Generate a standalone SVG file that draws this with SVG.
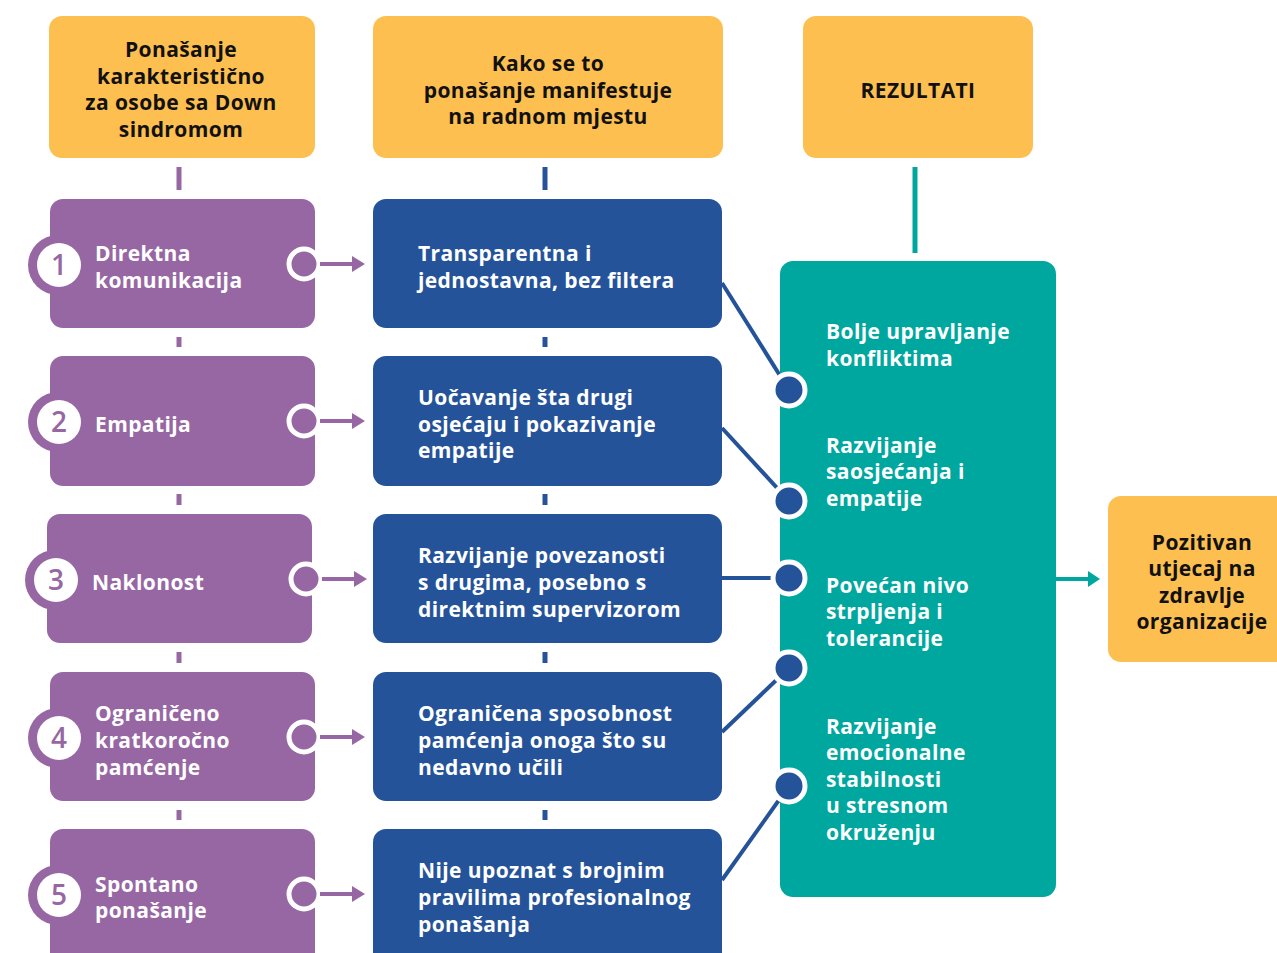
<svg xmlns="http://www.w3.org/2000/svg" width="1277" height="953" viewBox="0 0 1277 953">
<defs>
<style>
.hdr{fill:#FDBF50}
.pur{fill:#9767A4}
.blu{fill:#25539A}
.tea{fill:#00A79E}
.t{font-family:"Open Sans","Liberation Sans",sans-serif;font-weight:700;font-size:21px;letter-spacing:0.4px}
.tw{fill:#ffffff}
.tb{fill:#111111}
.num{font-family:"Open Sans","Liberation Sans",sans-serif;font-weight:600;font-size:28px;fill:#9767A4;text-anchor:middle}
.mid{text-anchor:middle}
.pdash{stroke:#9767A4;stroke-width:5}
.bdash{stroke:#25539A;stroke-width:5}
.pline{stroke:#9767A4;stroke-width:4;fill:none}
.bline{stroke:#25539A;stroke-width:4;fill:none}
.pdot{fill:#9767A4;stroke:#ffffff;stroke-width:5}
.bdot{fill:#25539A;stroke:#ffffff;stroke-width:5}
</style>
</defs>
<rect width="1277" height="953" fill="#ffffff"/>

<g id="header1">
<rect class="hdr" x="49" y="16" width="266" height="142" rx="13"/>
<text class="t tb mid" x="181"><tspan x="181" y="57">Ponašanje</tspan><tspan x="181" y="84">karakteristično</tspan><tspan x="181" y="110">za osobe sa Down</tspan><tspan x="181" y="137">sindromom</tspan></text>
</g>
<g id="header2">
<rect class="hdr" x="373" y="16" width="350" height="142" rx="13"/>
<text class="t tb mid"><tspan x="548" y="71">Kako se to</tspan><tspan x="548" y="98">ponašanje manifestuje</tspan><tspan x="548" y="124">na radnom mjestu</tspan></text>
</g>
<g id="header3">
<rect class="hdr" x="803" y="16" width="230" height="142" rx="13"/>
<text class="t tb mid" x="918" y="98">REZULTATI</text>
</g>

<g id="connectors">
<line class="pdash" x1="179" y1="167" x2="179" y2="190"/>
<line class="pdash" x1="179" y1="337" x2="179" y2="347"/>
<line class="pdash" x1="179" y1="494" x2="179" y2="505"/>
<line class="pdash" x1="179" y1="652" x2="179" y2="663"/>
<line class="pdash" x1="179" y1="810" x2="179" y2="820"/>
<line class="bdash" x1="545" y1="167" x2="545" y2="190"/>
<line class="bdash" x1="545" y1="337" x2="545" y2="347"/>
<line class="bdash" x1="545" y1="494" x2="545" y2="505"/>
<line class="bdash" x1="545" y1="652" x2="545" y2="663"/>
<line class="bdash" x1="545" y1="810" x2="545" y2="820"/>
<line x1="915" y1="167" x2="915" y2="253" stroke="#00A79E" stroke-width="5"/>
<line class="bline" x1="722" y1="283" x2="789" y2="390"/>
<line class="bline" x1="722" y1="428" x2="789" y2="501"/>
<line class="bline" x1="722" y1="578" x2="789" y2="578"/>
<line class="bline" x1="722" y1="732" x2="789" y2="668"/>
<line class="bline" x1="722" y1="880" x2="789" y2="786"/>
<line x1="1056" y1="579" x2="1088" y2="579" stroke="#00A79E" stroke-width="4"/>
<polygon points="1088,571 1100,579 1088,587" fill="#00A79E"/>
</g>

<g id="row1-behavior">
<rect class="pur" x="50" y="199" width="265" height="129" rx="13"/>
<circle class="pur" cx="58" cy="265" r="30"/>
<circle cx="59" cy="265" r="22" fill="#ffffff"/>
<text class="num" x="59" y="275">1</text>
<text class="t tw"><tspan x="95" y="261">Direktna</tspan><tspan x="95" y="288">komunikacija</tspan></text>
<circle class="pdot" cx="304" cy="264" r="15"/>
<line class="pline" x1="320" y1="264" x2="354" y2="264"/>
<polygon points="352,256 365,264 352,272" fill="#9767A4"/>
</g>
<g id="row2-behavior">
<rect class="pur" x="50" y="356" width="265" height="130" rx="13"/>
<circle class="pur" cx="58" cy="422" r="30"/>
<circle cx="59" cy="422" r="22" fill="#ffffff"/>
<text class="num" x="59" y="432">2</text>
<text class="t tw" x="95" y="432">Empatija</text>
<circle class="pdot" cx="304" cy="421" r="15"/>
<line class="pline" x1="320" y1="421" x2="354" y2="421"/>
<polygon points="352,413 365,421 352,429" fill="#9767A4"/>
</g>
<g id="row3-behavior">
<rect class="pur" x="47" y="514" width="265" height="129" rx="13"/>
<circle class="pur" cx="55" cy="580" r="30"/>
<circle cx="56" cy="580" r="22" fill="#ffffff"/>
<text class="num" x="56" y="590">3</text>
<text class="t tw" x="92" y="590">Naklonost</text>
<circle class="pdot" cx="306" cy="579" r="15"/>
<line class="pline" x1="322" y1="579" x2="356" y2="579"/>
<polygon points="354,571 367,579 354,587" fill="#9767A4"/>
</g>
<g id="row4-behavior">
<rect class="pur" x="50" y="672" width="265" height="129" rx="13"/>
<circle class="pur" cx="58" cy="738" r="30"/>
<circle cx="59" cy="738" r="22" fill="#ffffff"/>
<text class="num" x="59" y="748">4</text>
<text class="t tw"><tspan x="95" y="721">Ograničeno</tspan><tspan x="95" y="748">kratkoročno</tspan><tspan x="95" y="775">pamćenje</tspan></text>
<circle class="pdot" cx="304" cy="737" r="15"/>
<line class="pline" x1="320" y1="737" x2="354" y2="737"/>
<polygon points="352,729 365,737 352,745" fill="#9767A4"/>
</g>
<g id="row5-behavior">
<rect class="pur" x="50" y="829" width="265" height="140" rx="13"/>
<circle class="pur" cx="58" cy="895" r="30"/>
<circle cx="59" cy="895" r="22" fill="#ffffff"/>
<text class="num" x="59" y="905">5</text>
<text class="t tw"><tspan x="95" y="892">Spontano</tspan><tspan x="95" y="918">ponašanje</tspan></text>
<circle class="pdot" cx="304" cy="894" r="15"/>
<line class="pline" x1="320" y1="894" x2="354" y2="894"/>
<polygon points="352,886 365,894 352,902" fill="#9767A4"/>
</g>

<g id="row1-workplace">
<rect class="blu" x="373" y="199" width="349" height="129" rx="13"/>
<text class="t tw"><tspan x="418" y="261">Transparentna i</tspan><tspan x="418" y="288">jednostavna, bez filtera</tspan></text>
</g>
<g id="row2-workplace">
<rect class="blu" x="373" y="356" width="349" height="130" rx="13"/>
<text class="t tw"><tspan x="418" y="405">Uočavanje šta drugi</tspan><tspan x="418" y="432">osjećaju i pokazivanje</tspan><tspan x="418" y="458">empatije</tspan></text>
</g>
<g id="row3-workplace">
<rect class="blu" x="373" y="514" width="349" height="129" rx="13"/>
<text class="t tw"><tspan x="418" y="563">Razvijanje povezanosti</tspan><tspan x="418" y="590">s drugima, posebno s</tspan><tspan x="418" y="617">direktnim supervizorom</tspan></text>
</g>
<g id="row4-workplace">
<rect class="blu" x="373" y="672" width="349" height="129" rx="13"/>
<text class="t tw"><tspan x="418" y="721">Ograničena sposobnost</tspan><tspan x="418" y="748">pamćenja onoga što su</tspan><tspan x="418" y="775">nedavno učili</tspan></text>
</g>
<g id="row5-workplace">
<rect class="blu" x="373" y="829" width="349" height="140" rx="13"/>
<text class="t tw"><tspan x="418" y="878">Nije upoznat s brojnim</tspan><tspan x="418" y="905">pravilima profesionalnog</tspan><tspan x="418" y="932">ponašanja</tspan></text>
</g>

<g id="results">
<rect class="tea" x="780" y="261" width="276" height="636" rx="13"/>
<text class="t tw"><tspan x="826" y="339">Bolje upravljanje</tspan><tspan x="826" y="366">konfliktima</tspan></text>
<text class="t tw"><tspan x="826" y="453">Razvijanje</tspan><tspan x="826" y="479">saosjećanja i</tspan><tspan x="826" y="506">empatije</tspan></text>
<text class="t tw"><tspan x="826" y="593">Povećan nivo</tspan><tspan x="826" y="619">strpljenja i</tspan><tspan x="826" y="646">tolerancije</tspan></text>
<text class="t tw"><tspan x="826" y="734">Razvijanje</tspan><tspan x="826" y="760">emocionalne</tspan><tspan x="826" y="787">stabilnosti</tspan><tspan x="826" y="813">u stresnom</tspan><tspan x="826" y="840">okruženju</tspan></text>
<circle class="bdot" cx="789" cy="390" r="16"/>
<circle class="bdot" cx="789" cy="501" r="16"/>
<circle class="bdot" cx="789" cy="578" r="16"/>
<circle class="bdot" cx="789" cy="668" r="16"/>
<circle class="bdot" cx="789" cy="786" r="16"/>
</g>

<g id="outcome">
<rect class="hdr" x="1108" y="496" width="185" height="166" rx="13"/>
<text class="t tb mid"><tspan x="1202" y="550">Pozitivan</tspan><tspan x="1202" y="576">utjecaj na</tspan><tspan x="1202" y="603">zdravlje</tspan><tspan x="1202" y="629">organizacije</tspan></text>
</g>
</svg>
